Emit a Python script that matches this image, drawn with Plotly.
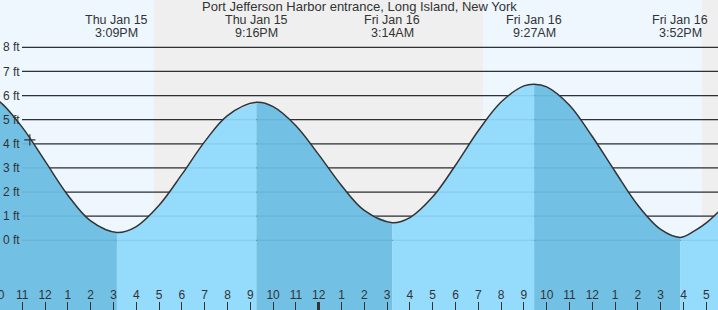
import plotly.graph_objects as go

# ---------------- data (hours after Thu Jan 15 00:00, heights in ft) ----------------
curve_hours = [9.0, 9.5, 10, 11, 12, 13, 14, 15.15, 16, 17, 18, 19, 20, 21.267,
               22, 23, 24, 25, 26, 27.233, 28, 29, 30, 31, 32, 33, 33.45, 34, 35,
               36, 37, 38, 39, 39.867, 40.5, 41, 41.5, 42]
curve_ft = [6.02, 5.95, 5.75, 4.68, 3.28, 1.87, 0.80, 0.32, 0.57, 1.45, 2.73, 4.09,
            5.17, 5.72, 5.54, 4.75, 3.55, 2.27, 1.24, 0.73, 0.94, 1.80, 3.11, 4.54,
            5.73, 6.40, 6.47, 6.36, 5.60, 4.30, 2.85, 1.45, 0.45, 0.12, 0.40, 0.72,
            1.15, 1.65]

extreme_hours = [9.0, 15.15, 21.267, 27.233, 33.45, 39.867]
label_hours = [15.15, 21.267, 27.233, 33.45, 39.867]
label_day = ["Thu Jan 15", "Thu Jan 15", "Fri Jan 16", "Fri Jan 16", "Fri Jan 16"]
label_time = ["3:09PM", "9:16PM", "3:14AM", "9:27AM", "3:52PM"]

sunset_hours = [16.776, 40.811]
sunrise_hours = [31.206]

now_hours = [11.33]
now_ft = [4.16]

hour_ticks = list(range(10, 42))
hour_labels = [str((h - 1) % 12 + 1) for h in hour_ticks]
midnight_ticks = [24]

ft_ticks = [0, 1, 2, 3, 4, 5, 6, 7, 8]
ft_labels = [f"{v} ft" for v in ft_ticks]

title = "Port Jefferson Harbor entrance, Long Island, New York"

# ---------------- style ----------------
X_RANGE = [10.022, 41.513]
Y_RANGE = [-2.89, 9.96]
FLOOR = -10
DAY = "#eef7fe"
NIGHT = "#efefef"
FALL = "#72c0e4"
RISE = "#95dbfc"
INK = "#333333"
FONT = "Liberation Sans, Arial, sans-serif"

fig = go.Figure()

# water fill, split at extremes (falling = darker)
idx = [curve_hours.index(h) for h in extreme_hours] + [len(curve_hours) - 1]
for a, b in zip(idx[:-1], idx[1:]):
    xs = curve_hours[a:b + 1]
    ys = curve_ft[a:b + 1]
    color = FALL if ys[-1] < ys[0] else RISE
    fig.add_trace(go.Scatter(x=[xs[0], xs[-1]], y=[FLOOR, FLOOR], mode="lines",
                             line=dict(width=0), hoverinfo="skip"))
    fig.add_trace(go.Scatter(x=xs, y=ys, mode="lines", fill="tonexty",
                             fillcolor=color, line=dict(width=0, shape="spline"),
                             hoverinfo="skip"))

# outline
fig.add_trace(go.Scatter(x=curve_hours, y=curve_ft, mode="lines",
                         line=dict(color=INK, width=1.5, shape="spline"),
                         hoverinfo="skip"))

# current time marker
fig.add_trace(go.Scatter(x=now_hours, y=now_ft, mode="markers",
                         marker=dict(symbol="cross-thin", size=8,
                                     line=dict(color=INK, width=1.2))))

# dummy trace for midnight-tick axis
fig.add_trace(go.Scatter(x=[], y=[], xaxis="x2", yaxis="y"))

shapes = []
# night bands
night_starts = sunset_hours
night_ends = sunrise_hours + [X_RANGE[1] + 1]
for s, e in zip(night_starts, night_ends):
    shapes.append(dict(type="rect", xref="x", yref="paper", x0=s, x1=e, y0=0, y1=1,
                       fillcolor=NIGHT, line=dict(width=0), layer="below"))
# dark grid lines below the water
for v in ft_ticks:
    shapes.append(dict(type="line", xref="paper", yref="y", x0=22 / 718, x1=1,
                       y0=v, y1=v, line=dict(color=INK, width=1.2), layer="below"))
# faint grid lines visible through water
for v in ft_ticks:
    shapes.append(dict(type="line", xref="paper", yref="y", x0=22 / 718, x1=1,
                       y0=v, y1=v, line=dict(color="rgba(0,40,80,0.08)", width=1.2),
                       layer="above"))

annotations = [dict(text=title, xref="paper", yref="paper", x=0.5, y=1 - 6.5 / 310,
                    yanchor="middle", borderpad=0, showarrow=False,
                    font=dict(family=FONT, size=13, color=INK))]
for h, d, t in zip(label_hours, label_day, label_time):
    annotations.append(dict(text=d, xref="x", yref="paper", x=h, y=1 - 19.6 / 310,
                            yanchor="middle", borderpad=0, showarrow=False,
                            font=dict(family=FONT, size=12.5, color=INK)))
    annotations.append(dict(text=t, xref="x", yref="paper", x=h, y=1 - 32.6 / 310,
                            yanchor="middle", borderpad=0, showarrow=False,
                            font=dict(family=FONT, size=12.5, color=INK)))

# first hour label sits on the left edge (cut off) – plotly hides it on the axis
first_frac = (hour_ticks[0] - X_RANGE[0]) / (X_RANGE[1] - X_RANGE[0])
annotations.append(dict(text=hour_labels[0], xref="paper", yref="paper",
                        x=first_frac, y=1 - 295 / 310, xanchor="right", xshift=6.5,
                        yanchor="middle", borderpad=0, showarrow=False,
                        font=dict(family=FONT, size=12, color=INK)))

fig.update_layout(
    width=718, height=310, autosize=False,
    margin=dict(l=0, r=0, t=0, b=0, pad=0),
    showlegend=False,
    plot_bgcolor=DAY, paper_bgcolor=DAY,
    font=dict(family=FONT, size=12, color=INK),
    shapes=shapes, annotations=annotations,
    xaxis=dict(range=X_RANGE, tickvals=hour_ticks, ticktext=hour_labels,
               ticks="inside", ticklen=8, tickwidth=1, tickcolor=INK,
               ticklabelposition="inside", showgrid=False, zeroline=False,
               showline=False, fixedrange=True,
               tickfont=dict(family=FONT, size=12, color=INK)),
    xaxis2=dict(range=X_RANGE, overlaying="x", anchor="y", side="bottom",
                tickvals=midnight_ticks, ticks="inside", ticklen=8, tickwidth=3,
                tickcolor=INK, showticklabels=False, showgrid=False,
                zeroline=False, showline=False),
    yaxis=dict(range=Y_RANGE, tickvals=ft_ticks, ticktext=ft_labels,
               ticks="", ticklabelposition="inside", showgrid=False,
               zeroline=False, showline=False, fixedrange=True,
               tickfont=dict(family=FONT, size=12, color=INK)),
)

fig.write_html("out.html")
